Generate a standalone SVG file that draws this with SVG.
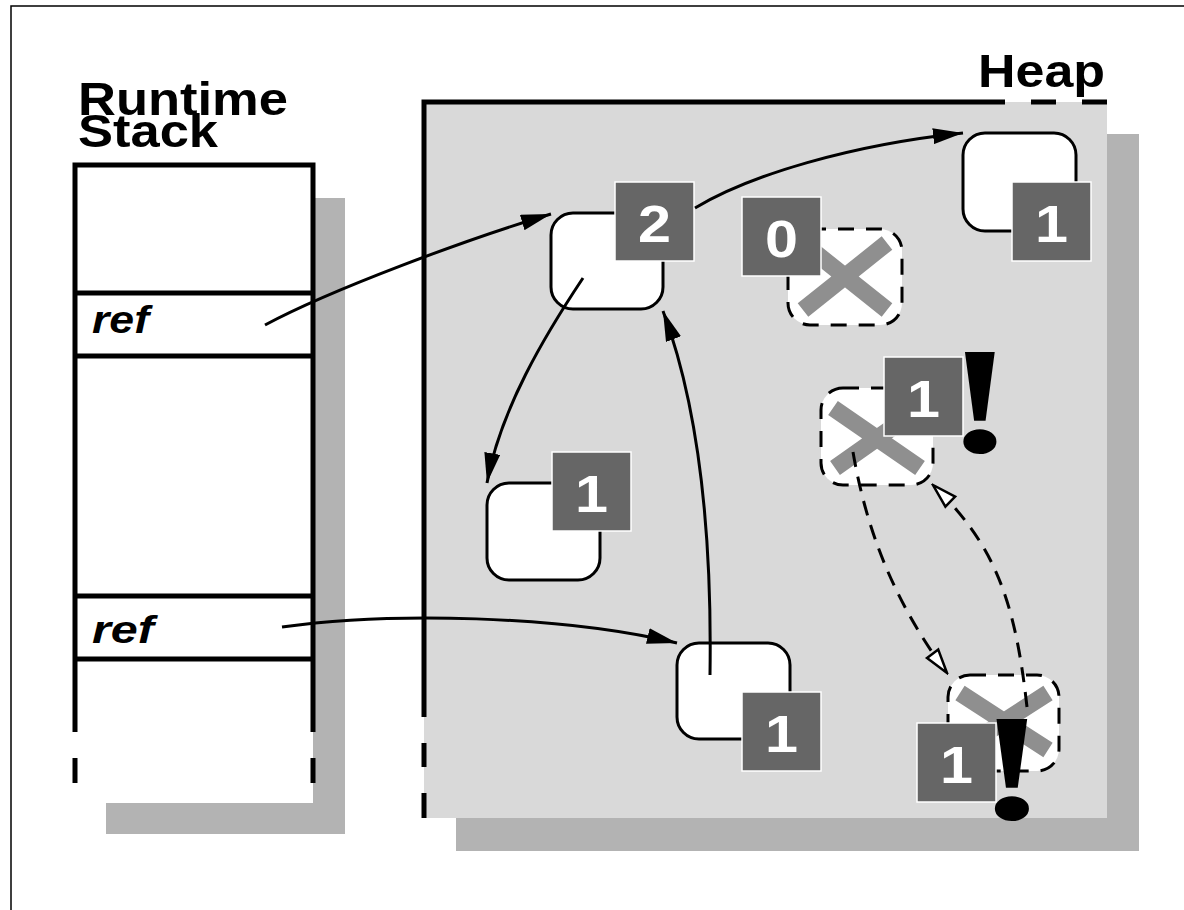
<svg xmlns="http://www.w3.org/2000/svg" width="1184" height="910" viewBox="0 0 1184 910">
  <style>
    .title { font-family: "Liberation Sans", Arial, sans-serif; font-weight: bold; font-size: 46px; fill: #000; }
    .ref { font-family: "Liberation Sans", Arial, sans-serif; font-weight: bold; font-style: italic; font-size: 38px; fill: #000; }
    .num { font-family: "Liberation Sans", Arial, sans-serif; font-weight: bold; font-size: 52px; fill: #fff; text-anchor: middle; }
    .bang { font-family: "Liberation Serif", "Times New Roman", serif; font-weight: bold; font-size: 152px; fill: #000; text-anchor: middle; }
    .wall { stroke: #000; stroke-width: 5; fill: none; }
    .shadow { fill: #b3b3b3; }
    .box { fill: #fff; stroke: #000; stroke-width: 3; }
    .dead { fill: #fff; stroke: #000; stroke-width: 3; stroke-dasharray: 16 12; }
    .badge { fill: #666; stroke: #fff; stroke-width: 1.5; }
    .cross { stroke: #8f8f8f; stroke-width: 17; fill: none; }
    .ptr { fill: none; stroke: #000; stroke-width: 3; }
    .weak { fill: none; stroke: #000; stroke-width: 3; stroke-dasharray: 15 10; }
  </style>
  <defs>
    <marker id="head" viewBox="0 0 30 16" refX="30" refY="8" markerWidth="30" markerHeight="16" orient="auto" markerUnits="userSpaceOnUse">
      <path d="M0,0 L30,8 L0,16 z" fill="#000"/>
    </marker>
    <marker id="openHead" viewBox="-2 -2 28 18" refX="24" refY="7" markerWidth="28" markerHeight="18" orient="auto" markerUnits="userSpaceOnUse">
      <path d="M0,0 L24,7 L0,14 z" fill="#fff" stroke="#000" stroke-width="2.5" stroke-dasharray="none" stroke-linejoin="miter"/>
    </marker>
  </defs>

  <rect width="1184" height="910" fill="#fff"/>
  <!-- page frame -->
  <rect x="11" y="6" width="1200" height="1000" fill="none" stroke="#000" stroke-width="1.5"/>

  <!-- runtime stack -->
  <g id="stack">
    <rect class="shadow" x="106" y="198" width="239" height="636"/>
    <rect x="75" y="165" width="238" height="638" fill="#fff"/>
    <path class="wall" d="M75,732 V165 H313 V732"/>
    <path class="wall" d="M75,758 V783 M313,758 V783"/>
    <path class="wall" d="M75,293 H313 M75,356 H313 M75,596 H313 M75,659 H313"/>
    <text class="title"><tspan x="78" y="115" textLength="210" lengthAdjust="spacingAndGlyphs">Runtime</tspan><tspan x="78" y="147" textLength="140" lengthAdjust="spacingAndGlyphs">Stack</tspan></text>
    <text class="ref" x="92" y="333" textLength="57" lengthAdjust="spacingAndGlyphs">ref</text>
    <text class="ref" x="92" y="643" textLength="62" lengthAdjust="spacingAndGlyphs">ref</text>
  </g>

  <!-- heap -->
  <g id="heap">
    <rect class="shadow" x="456" y="134" width="683" height="717"/>
    <rect x="424" y="102" width="683" height="716" fill="#d9d9d9"/>
    <path class="wall" d="M424,717 V102 H1005"/>
    <path class="wall" d="M424,743 V767 M424,793 V818 M1031,102 H1056 M1082,102 H1107"/>
    <text class="title" x="978" y="87" textLength="127" lengthAdjust="spacingAndGlyphs">Heap</text>
  </g>

  <!-- heap objects -->
  <g id="obj-a">
    <rect class="box" x="551" y="213" width="112" height="96" rx="22"/>
    <rect class="badge" x="615" y="182" width="79" height="79"/>
    <text class="num" x="654.5" y="242" textLength="33" lengthAdjust="spacingAndGlyphs">2</text>
  </g>
  <g id="obj-b">
    <rect class="box" x="963" y="133" width="113" height="98" rx="22"/>
    <rect class="badge" x="1012" y="182" width="79" height="79"/>
    <text class="num" x="1051.5" y="242" textLength="33" lengthAdjust="spacingAndGlyphs">1</text>
  </g>
  <g id="obj-c">
    <rect class="dead" x="788" y="229" width="114" height="96" rx="22"/>
    <path class="cross" d="M803,243 L887,310 M803,310 L887,243"/>
    <rect class="badge" x="742" y="197" width="79" height="79"/>
    <text class="num" x="781.5" y="257" textLength="33" lengthAdjust="spacingAndGlyphs">0</text>
  </g>
  <g id="obj-d">
    <rect class="box" x="487" y="483" width="113" height="97" rx="22"/>
    <rect class="badge" x="552" y="452" width="79" height="79"/>
    <text class="num" x="591.5" y="512" textLength="33" lengthAdjust="spacingAndGlyphs">1</text>
  </g>
  <g id="obj-e">
    <rect class="box" x="677" y="643" width="113" height="96" rx="22"/>
    <rect class="badge" x="742" y="692" width="79" height="79"/>
    <text class="num" x="781.5" y="752" textLength="33" lengthAdjust="spacingAndGlyphs">1</text>
  </g>
  <g id="obj-f">
    <rect class="dead" x="821" y="388" width="112" height="97" rx="22"/>
    <path class="cross" d="M833,408 L920,468 M835,468 L920,408"/>
    <rect class="badge" x="884" y="357" width="79" height="79"/>
    <text class="num" x="923.5" y="417" textLength="33" lengthAdjust="spacingAndGlyphs">1</text>
    <text class="bang" x="980" y="452" textLength="68" lengthAdjust="spacingAndGlyphs">!</text>
  </g>
  <g id="obj-g">
    <rect class="dead" x="948" y="675" width="111" height="96" rx="22"/>
    <path class="cross" d="M960,693 L1048,750 M1048,693 L960,750"/>
    <rect class="badge" x="917" y="723" width="79" height="79"/>
    <text class="num" x="956.5" y="783" textLength="33" lengthAdjust="spacingAndGlyphs">1</text>
    <text class="bang" x="1012" y="819" textLength="70" lengthAdjust="spacingAndGlyphs">!</text>
  </g>

  <!-- references -->
  <g id="connectors">
    <path class="ptr" d="M265,325 C330,290 470,238 551,214" marker-end="url(#head)"/>
    <path class="ptr" d="M695,208 C750,175 850,145 963,133" marker-end="url(#head)"/>
    <path class="ptr" d="M583,278 C545,335 500,410 487,483" marker-end="url(#head)"/>
    <path class="ptr" d="M282,627 C390,612 560,615 677,643" marker-end="url(#head)"/>
    <path class="ptr" d="M710,675 C712,540 700,410 663,311" marker-end="url(#head)"/>
    <path class="weak" d="M853,452 C868,540 900,610 947,673" marker-end="url(#openHead)"/>
    <path class="weak" d="M1027,707 C1015,600 995,545 933,485" marker-end="url(#openHead)"/>
  </g>
</svg>
